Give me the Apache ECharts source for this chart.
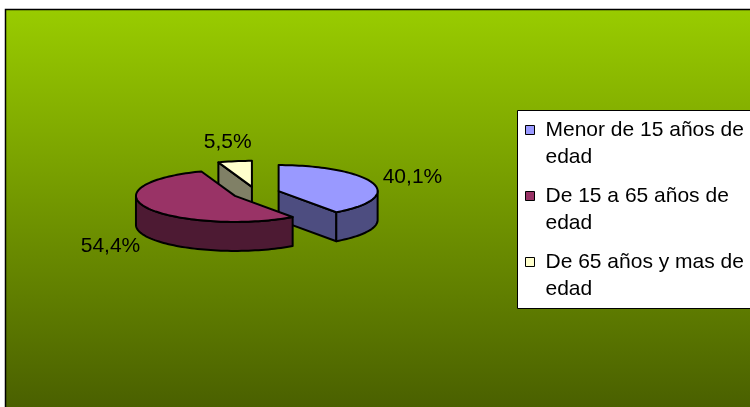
<!DOCTYPE html>
<html><head><meta charset="utf-8">
<script src="https://cdn.jsdelivr.net/npm/echarts@6/dist/echarts.min.js"></script>
<style>html,body{margin:0;padding:0;background:#fff}#c{width:750px;height:407px}</style>
</head><body><div id="c"></div>
<script>
const categories = ['Menor de 15 años de edad', 'De 15 a 65 años de edad', 'De 65 años y mas de edad'];
const values = [40.1, 54.4, 5.5];
const topColors = ['#9999ff', '#993366', '#ffffcc'];
const sideColors = ['#4d4d80', '#4d1a33', '#808066'];

const PIE = {cx: 256, cy: 193, rx: 99, ry: 26, depth: 29, explode: 0.24, labelKx: 1.42, labelKy: 1.75};
const FONT = "'Liberation Sans', Arial, sans-serif";

const total = values.reduce((a, b) => a + b, 0);
const starts = [];
let acc = 0;
values.forEach(v => { starts.push(acc / total * 2 * Math.PI); acc += v; });

function sliceGeom(i) {
  const a0 = starts[i], a1 = a0 + values[i] / total * 2 * Math.PI, m = (a0 + a1) / 2;
  return {
    a0, a1, m,
    cx: PIE.cx + PIE.rx * PIE.explode * Math.sin(m),
    cy: PIE.cy - PIE.ry * PIE.explode * Math.cos(m)
  };
}
function pt(g, t, dy) { return [g.cx + PIE.rx * Math.sin(t), g.cy - PIE.ry * Math.cos(t) + (dy || 0)]; }
function arc(g, s, e, dy) {
  const n = Math.max(2, Math.ceil((e - s) / (Math.PI / 90)));
  const pts = [];
  for (let k = 0; k <= n; k++) pts.push(pt(g, s + (e - s) * k / n, dy));
  return pts;
}
function fmt(v) { return v.toFixed(1).replace('.', ',') + '%'; }

function makeRender(i) {
  return function (params, api) {
    const g = sliceGeom(i);
    const D = PIE.depth;
    const line = {stroke: '#000', lineWidth: 2, lineJoin: 'round'};
    const children = [];
    [[g.a0, g.a0 - Math.PI / 2], [g.a1, g.a1 + Math.PI / 2]].forEach(([t, n]) => {
      if (Math.cos(n) < -0.01) {
        const p = pt(g, t);
        children.push({type: 'polygon', shape: {points: [[g.cx, g.cy], p, [p[0], p[1] + D], [g.cx, g.cy + D]]},
          style: Object.assign({fill: sideColors[i]}, line)});
      }
    });
    const s = Math.max(g.a0, Math.PI / 2), e = Math.min(g.a1, 3 * Math.PI / 2);
    if (e > s) {
      const top = arc(g, s, e, 0), bot = arc(g, s, e, D).reverse();
      children.push({type: 'polygon', shape: {points: top.concat(bot)}, style: Object.assign({fill: sideColors[i]}, line)});
    }
    children.push({type: 'polygon', shape: {points: [[g.cx, g.cy]].concat(arc(g, g.a0, g.a1, 0))},
      style: Object.assign({fill: topColors[i]}, line)});
    const lx = g.cx + PIE.rx * PIE.labelKx * Math.sin(g.m);
    const ly = g.cy - PIE.ry * PIE.labelKy * Math.cos(g.m) + (Math.cos(g.m) < 0 ? D : 0);
    children.push({type: 'text', x: lx, y: ly, style: {text: fmt(api.value(0)), fill: '#000', font: '21px ' + FONT, align: 'center', verticalAlign: 'middle'}});
    return {type: 'group', children};
  };
}

const order = categories.map((c, i) => i).sort((a, b) => sliceGeom(a).cy - sliceGeom(b).cy);

const chart = echarts.init(document.getElementById('c'), null, {renderer: 'canvas'});
chart.setOption({
  animation: false,
  backgroundColor: '#ffffff',
  graphic: [
    {type: 'rect', silent: true, shape: {x: 5.5, y: 9.5, width: 800, height: 450},
      style: {fill: new echarts.graphic.LinearGradient(0, 9, 0, 407, [{offset: 0, color: '#99cc00'}, {offset: 1, color: '#4a6000'}], true),
        stroke: '#000', lineWidth: 1.5}},
    {type: 'rect', silent: true, shape: {x: 517.5, y: 110.5, width: 300, height: 198},
      style: {fill: '#ffffff', stroke: '#000', lineWidth: 1}}
  ],
  legend: {
    orient: 'vertical', left: 525, top: 89.5, padding: 0,
    itemWidth: 9, itemHeight: 9, itemGap: -15, icon: 'rect',
    selectedMode: false,
    data: categories,
    formatter: n => n.replace(/ edad$/, '\nedad').split('\n').map(s => '{a|' + s + '}').join('\n'),
    textStyle: {
      fontFamily: FONT, fontSize: 21, color: '#000', lineHeight: 27, padding: [27, 0, 0, 6],
      rich: {a: {fontFamily: FONT, fontSize: 21, color: '#000', lineHeight: 27}}
    },
    itemStyle: {borderColor: '#000', borderWidth: 1}
  },
  series: categories.map((name, i) => ({
    type: 'custom',
    name: name,
    coordinateSystem: 'none',
    z: 2 + order.indexOf(i),
    itemStyle: {color: topColors[i]},
    data: [[values[i]]],
    renderItem: makeRender(i)
  }))
});
</script></body></html>
